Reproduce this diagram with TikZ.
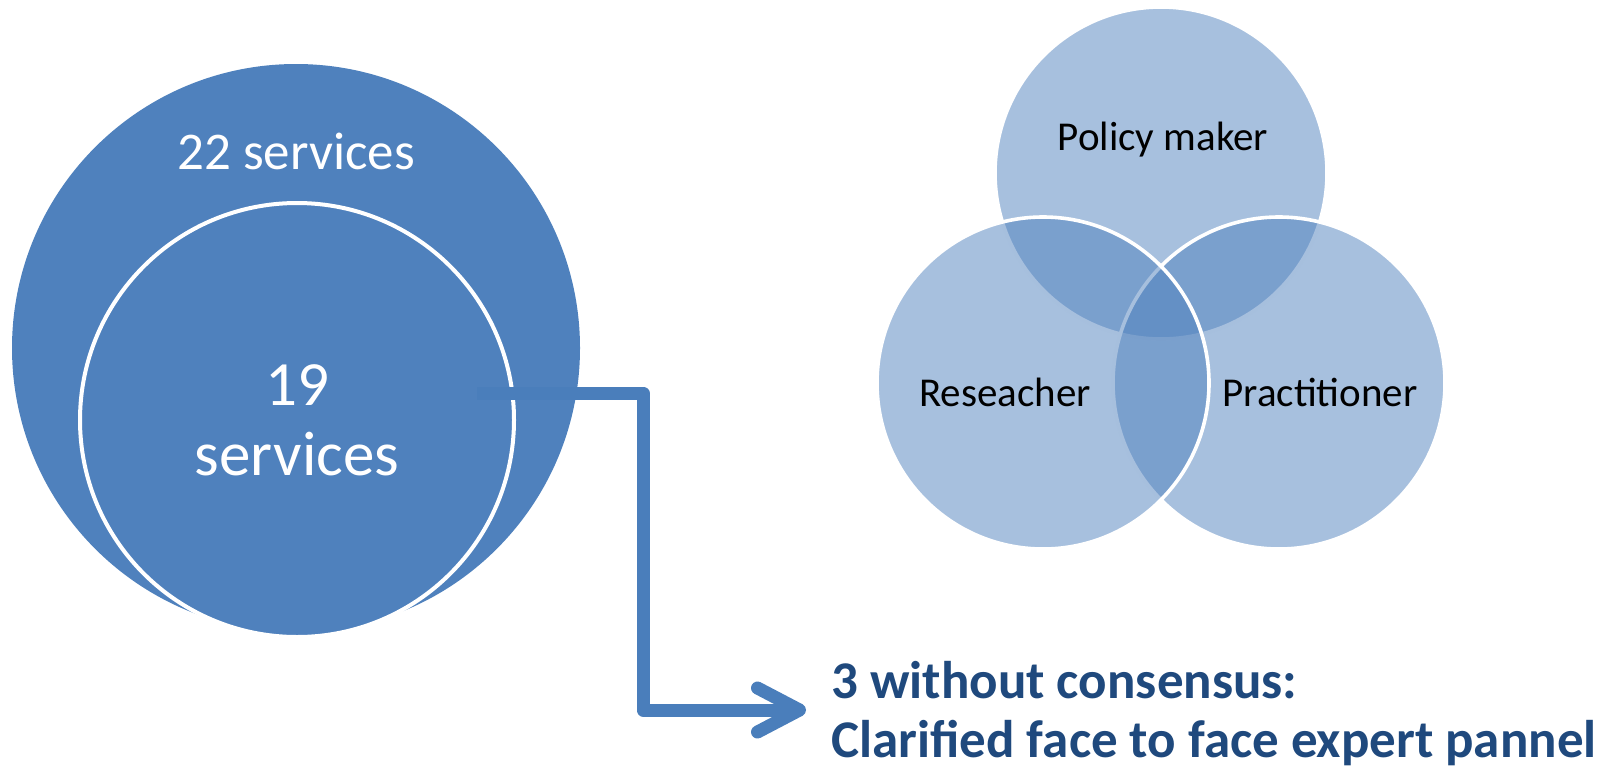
\documentclass[tikz,border=0pt]{standalone}
\usepackage{fontspec}
\setmainfont{Carlito}
\usetikzlibrary{arrows.meta}
\definecolor{mainblue}{HTML}{4F81BD}
\definecolor{arrowblue}{HTML}{4A7EBB}
\definecolor{darkblue}{HTML}{1F497D}
\begin{document}
\begin{tikzpicture}[x=0.5pt,y=-0.5pt,
  bigcirc/.style={circle, inner sep=0pt, outer sep=0pt, fill=mainblue},
  venn/.style={circle, inner sep=0pt, outer sep=0pt, minimum size=166pt, fill=mainblue, fill opacity=0.5, draw=white, line width=1.8pt},
  whitetxt/.style={text=white, inner sep=0pt, anchor=base},
  venntxt/.style={text=black, inner sep=0pt, anchor=base, font=\fontsize{20.5}{24}\selectfont},
  flow/.style={draw=arrowblue, line width=6.5pt, line join=round, -{Straight Barb[length=21pt,width=22pt,round]}},
  bluetxt/.style={text=darkblue, font=\bfseries\fontsize{26.5}{29.5}\selectfont, inner sep=0pt, anchor=base west}
]
\useasboundingbox (0,0) rectangle (1616,766);
% left: nested circles
\node[bigcirc, minimum size=284pt] (outer) at (296,348) {};
\node[bigcirc, minimum size=217pt, draw=white, line width=2pt, text=white, align=center, font=\fontsize{31.5}{35}\selectfont] (inner) at (297,420) {19\\services};
\node[whitetxt, font=\fontsize{26.5}{30}\selectfont] (t22) at (296,169) {22 services};
% right: Venn
\node[venn] (policy) at (1161,173) {};
\node[venn] (pract) at (1279,383) {};
\node[venn] (res) at (1043,383) {};
\node[venntxt] (tpol) at (1163,150) {Policy maker};
\node[venntxt] (tres) at (1005,406) {Reseacher};
\node[venntxt] (tpra) at (1320,406) {Practitioner};
% arrow and conclusion
\node[bluetxt] (l1) at (831,698) {3 without consensus:};
\node[bluetxt] (l2) at (831,757) {Clarified face to face expert pannel};
\coordinate (astart) at (477,393);
\coordinate (abend) at (643,710);
\coordinate (atip) at (806,710);
\draw[flow] (astart) -| (abend) -- (atip);
\end{tikzpicture}
\end{document}
